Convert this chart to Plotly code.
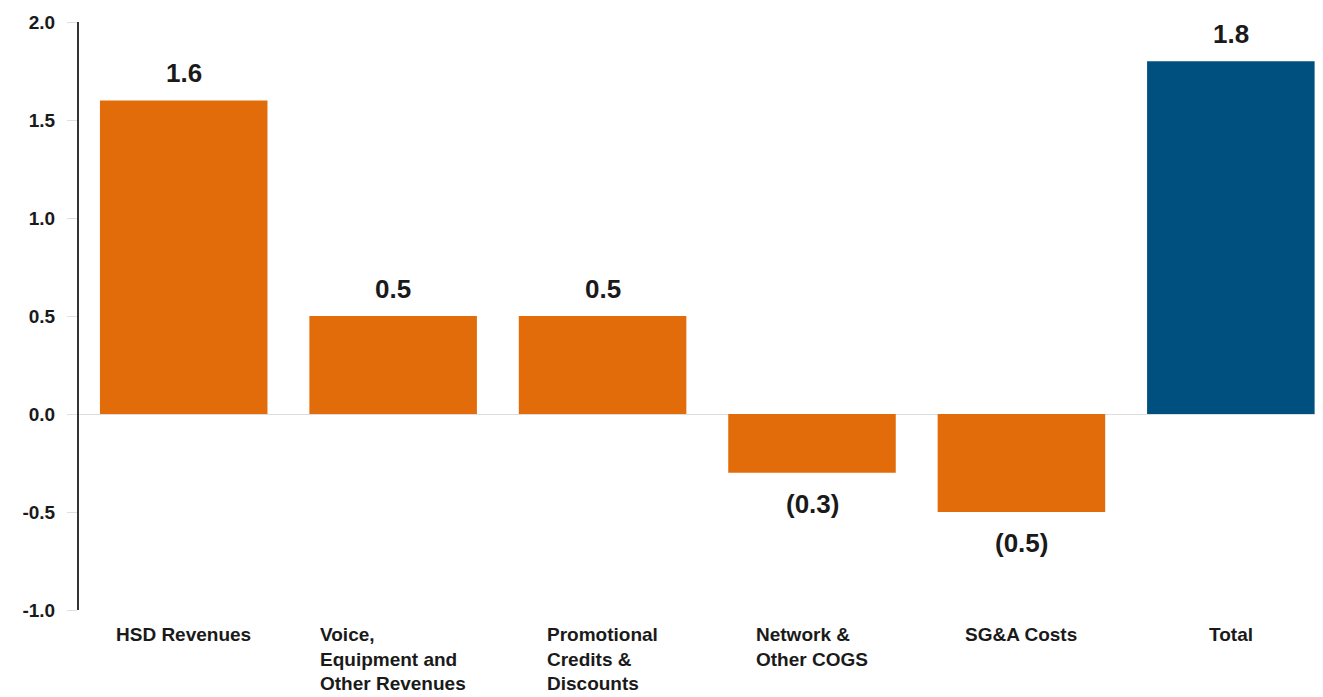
import plotly.graph_objects as go

categories = ["HSD Revenues", "Voice,<br>Equipment and<br>Other Revenues", "Promotional<br>Credits &<br>Discounts",
              "Network &<br>Other COGS", "SG&A Costs", "Total"]
values = [1.6, 0.5, 0.5, -0.3, -0.5, 1.8]
bar_colors = ["#E36C0A", "#E36C0A", "#E36C0A", "#E36C0A", "#E36C0A", "#00507F"]
y_ticks = [-1.0, -0.5, 0.0, 0.5, 1.0, 1.5, 2.0]

xs = list(range(len(categories)))
fig = go.Figure(go.Bar(x=xs, y=values, marker=dict(color=bar_colors, line=dict(width=0)), width=0.8))

font_family = "Liberation Sans, Arial, sans-serif"
ann = []
for i, v in enumerate(values):
    txt = f"{v:.1f}" if v >= 0 else f"({abs(v):.1f})"
    ann.append(dict(x=i, y=v, xref="x", yref="y", text=txt, showarrow=False,
                    yanchor="bottom" if v >= 0 else "top", yshift=10 if v >= 0 else -14,
                    font=dict(family=font_family, size=26, color="#1a1a1a", weight="bold")))
for i, c in enumerate(categories):
    ann.append(dict(x=i, y=0, xref="x", yref="paper", text=c, showarrow=False,
                    xanchor="center", yanchor="top", align="left", yshift=-12,
                    font=dict(family=font_family, size=19, color="#1a1a1a", weight="bold")))

fig.update_layout(
    width=1315, height=689,
    margin=dict(l=71, r=0, t=14, b=87),
    plot_bgcolor="white", paper_bgcolor="white",
    showlegend=False,
    annotations=ann,
    xaxis=dict(range=[-0.5, 5.44], showticklabels=False, showgrid=False, zeroline=False,
               showline=False, ticks=""),
    yaxis=dict(range=[-1.0, 2.0], tickvals=y_ticks, ticktext=[f"{t:.1f}" for t in y_ticks],
               showgrid=False, zeroline=True, zerolinecolor="#dddddd", zerolinewidth=1,
               showline=True, linecolor="#333333", linewidth=2,
               ticks="outside", ticklen=10, tickcolor="#e0e0e0", tickwidth=1,
               ticklabelstandoff=8,
               tickfont=dict(family=font_family, size=19, color="#1a1a1a", weight="bold")),
)

fig.write_html("out.html")
